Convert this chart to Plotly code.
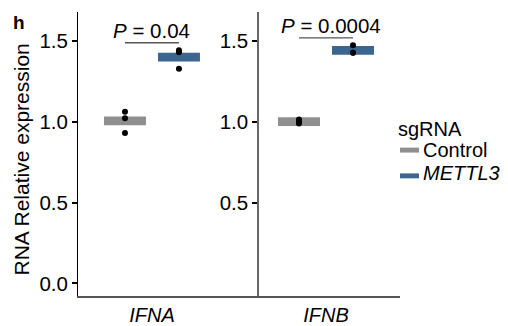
import numpy as np
import plotly.graph_objects as go

# ---------------- data ----------------
genes = ["IFNA", "IFNB"]
groups = ["Control", "METTL3"]
points = {
    ("IFNA", "Control"): [1.063, 1.023, 0.931],
    ("IFNA", "METTL3"): [1.444, 1.431, 1.329],
    ("IFNB", "Control"): [1.015, 1.000, 0.990],
    ("IFNB", "METTL3"): [1.474, 1.428, 1.428],
}
p_values = ["0.04", "0.0004"]
bracket_y = [1.49, 1.52]
y_ticks = [0.0, 0.5, 1.0, 1.5]

# ---------------- style ----------------
W, H = 508, 326
FONT = "Liberation Sans, Arial, Helvetica, sans-serif"
colors = {"Control": "#8f8f8f", "METTL3": "#3a6690"}
dodge = {"Control": -0.2, "METTL3": 0.2}
bar_w = 0.311
bar_thick = 0.054

def px(x):
    return x / W

def py(y):
    return (H - y) / H

fig = go.Figure()

axes = [("x", "y"), ("x2", "y2")]
for gi, gene in enumerate(genes):
    xa, ya = axes[gi]
    for grp in groups:
        vals = points[(gene, grp)]
        m = float(np.mean(vals))
        fig.add_trace(go.Bar(
            x=[1 + dodge[grp]], y=[bar_thick], base=[m - bar_thick / 2],
            width=bar_w, marker=dict(color=colors[grp], line=dict(width=0)),
            xaxis=xa, yaxis=ya, showlegend=False, hoverinfo="skip"))
        fig.add_trace(go.Scatter(
            x=[1 + dodge[grp]] * len(vals), y=vals, mode="markers",
            marker=dict(color="black", size=6),
            xaxis=xa, yaxis=ya, showlegend=False, hoverinfo="skip"))
    # significance bracket
    fig.add_trace(go.Scatter(
        x=[1 + dodge["Control"], 1 + dodge["METTL3"]],
        y=[bracket_y[gi], bracket_y[gi]], mode="lines",
        line=dict(color="#555555", width=1.3),
        xaxis=xa, yaxis=ya, showlegend=False, hoverinfo="skip"))
    fig.add_annotation(
        x=1, y=bracket_y[gi], xref=xa, yref=ya,
        text="<i>P</i> = " + p_values[gi], showarrow=False,
        yanchor="middle", yshift=12, xshift=(0 if gi == 0 else 5),
        font=dict(family=FONT, size=20.5, color="black"))

yr = [-0.0798, 1.681]
common_x = dict(showgrid=False, zeroline=False, showline=True,
                linecolor="#555555", linewidth=1.5, ticks="",
                tickfont=dict(family=FONT, size=20, color="black"))
fig.update_layout(
    width=W, height=H, margin=dict(l=0, r=0, t=0, b=0),
    paper_bgcolor="white", plot_bgcolor="white", barmode="overlay",
    xaxis=dict(domain=[px(78), px(259)], range=[0.452, 1.793],
               tickvals=[1], ticktext=["<i>" + genes[0] + "</i>"], **common_x),
    xaxis2=dict(domain=[px(259), px(400)], range=[0.504, 1.548],
                tickvals=[1], ticktext=["<i>" + genes[1] + "</i>"], **common_x),
    yaxis=dict(domain=[py(299), py(12)], range=yr, anchor="x",
               tickvals=y_ticks, tickformat=".1f", showgrid=False,
               zeroline=False, showline=True, linecolor="black", linewidth=1,
               ticks="outside", ticklen=5, tickwidth=2, tickcolor="black",
               tickfont=dict(family=FONT, size=20.5, color="black")),
    yaxis2=dict(domain=[py(299), py(12)], range=yr, anchor="x2",
                tickvals=y_ticks[1:], tickformat=".1f", showgrid=False,
                zeroline=False, showline=True, linecolor="#666666",
                linewidth=1.5, ticks="outside", ticklen=5, tickwidth=2,
                tickcolor="black",
                tickfont=dict(family=FONT, size=20.5, color="black")),
)

# y-axis title
fig.add_annotation(x=px(22), y=py(161), xref="paper", yref="paper",
                   text="RNA Relative expression", textangle=-90,
                   showarrow=False, xanchor="center", yanchor="middle",
                   font=dict(family=FONT, size=21, color="black"))
# panel letter
fig.add_annotation(x=px(11), y=py(23), xref="paper", yref="paper",
                   text="<b>h</b>", showarrow=False, xanchor="left",
                   yanchor="middle", font=dict(family=FONT, size=19, color="black"))

# legend (manual)
fig.add_annotation(x=px(396), y=py(130), xref="paper", yref="paper",
                   text="sgRNA", showarrow=False, xanchor="left",
                   yanchor="middle", font=dict(family=FONT, size=20, color="black"))
leg_rows = [(151.5, 151.5, groups[0], groups[0]),
            (177.5, 175, groups[1], "<i>" + groups[1] + "</i>")]
for sy, ty, grp, label in leg_rows:
    fig.add_shape(type="rect", xref="paper", yref="paper",
                  x0=px(400), x1=px(419), y0=py(sy + 2.5), y1=py(sy - 2.5),
                  fillcolor=colors[grp], line=dict(width=0))
    fig.add_annotation(x=px(421), y=py(ty), xref="paper", yref="paper",
                       text=label, showarrow=False, xanchor="left",
                       yanchor="middle",
                       font=dict(family=FONT, size=20, color="black"))

fig.write_html("out.html", config={"displayModeBar": False},
               post_script="document.body.style.margin='0px';"
                           "document.body.style.overflow='hidden';")
